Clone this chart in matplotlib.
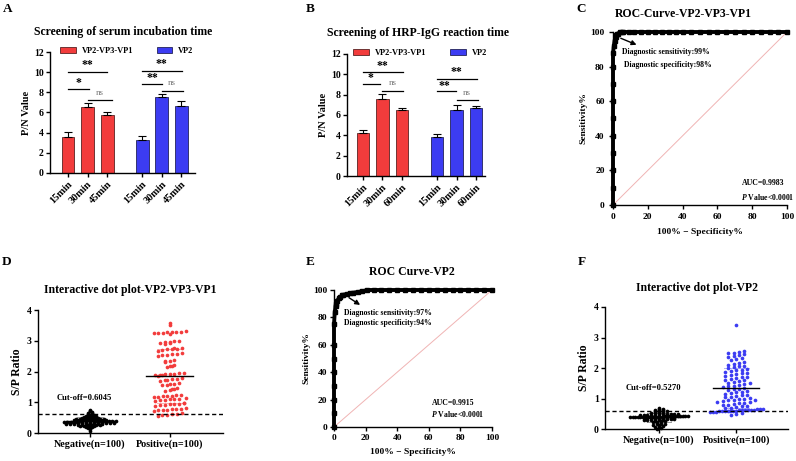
import numpy as np
import matplotlib
matplotlib.use('Agg')
import matplotlib.pyplot as plt

plt.rcParams['font.family'] = ['Liberation Serif', 'DejaVu Serif']
plt.rcParams['font.weight'] = 'bold'
plt.rcParams['axes.labelweight'] = 'bold'
plt.rcParams['axes.linewidth'] = 1.0
plt.rcParams['mathtext.fontset'] = 'custom'
plt.rcParams['mathtext.it'] = 'Liberation Serif:italic:bold'
plt.rcParams['mathtext.rm'] = 'Liberation Serif:bold'

RED = '#f23c3c'
BLUE = '#3c3cf2'

# ---------------- data ----------------
series_names = ['VP2-VP3-VP1', 'VP2']

A_ticks = ['15min', '30min', '45min']
A_red = [3.6, 6.5, 5.8]
A_red_err = [0.45, 0.45, 0.2]
A_blue = [3.25, 7.5, 6.6]
A_blue_err = [0.4, 0.3, 0.5]

B_ticks = ['15min', '30min', '60min']
B_red = [4.25, 7.6, 6.5]
B_red_err = [0.25, 0.5, 0.2]
B_blue = [3.85, 6.5, 6.7]
B_blue_err = [0.3, 0.45, 0.15]

C_fpr = [0, 0, 0, 0, 0, 0, 0, 0, 0, 0, 0.5, 1, 1.5, 2, 2.5, 3, 4, 5, 6, 9, 12, 16, 20, 24, 28,
         32, 36, 40, 45, 50, 55, 60, 65, 70, 75, 80, 85, 90, 95, 100]
C_tpr = [0, 10, 20, 30, 40, 50, 60, 70, 80, 88, 92, 95, 97, 98, 99, 99, 100, 100, 100, 100, 100,
         100, 100, 100, 100, 100, 100, 100, 100, 100, 100, 100, 100, 100, 100, 100, 100, 100, 100, 100]

E_fpr = [0, 0, 0, 0, 0, 0, 0, 0, 0.5, 1, 1.5, 2, 3, 4, 5, 6, 8, 10, 12, 15, 18, 21, 25, 30, 35,
         40, 45, 50, 55, 60, 65, 70, 75, 80, 85, 90, 95, 100]
E_tpr = [0, 10, 20, 30, 40, 50, 60, 75, 84, 88, 90, 92, 94, 95, 96, 96.5, 97, 97.5, 98, 98.5, 99,
         100, 100, 100, 100, 100, 100, 100, 100, 100, 100, 100, 100, 100, 100, 100, 100, 100]

C_texts = ['Diagnostic sensitivity:99%', 'Diagnostic specificity:98%', 'AUC=0.9983']
E_texts = ['Diagnostic sensitivity:97%', 'Diagnostic specificity:94%', 'AUC=0.9915']
p_text = '$P$ Value<0.0001'

dot_cats = ['Negative(n=100)', 'Positive(n=100)']

D_neg = [0.08, 0.12, 0.15, 0.17, 0.18, 0.20, 0.21, 0.22, 0.23, 0.24,
         0.25, 0.25, 0.26, 0.26, 0.27, 0.27, 0.28, 0.28, 0.28, 0.29,
         0.29, 0.30, 0.30, 0.30, 0.31, 0.31, 0.31, 0.32, 0.32, 0.32,
         0.33, 0.33, 0.33, 0.33, 0.34, 0.34, 0.34, 0.34, 0.35, 0.35,
         0.35, 0.35, 0.35, 0.36, 0.36, 0.36, 0.36, 0.37, 0.37, 0.37,
         0.37, 0.38, 0.38, 0.38, 0.38, 0.39, 0.39, 0.39, 0.40, 0.40,
         0.40, 0.40, 0.41, 0.41, 0.41, 0.42, 0.42, 0.42, 0.43, 0.43,
         0.43, 0.44, 0.44, 0.45, 0.45, 0.46, 0.46, 0.47, 0.47, 0.48,
         0.48, 0.49, 0.50, 0.50, 0.51, 0.52, 0.53, 0.54, 0.55, 0.56,
         0.57, 0.58, 0.60, 0.62, 0.64, 0.66, 0.68, 0.70, 0.72, 0.76]
D_pos = [3.52, 3.57,
         3.22, 3.24, 3.25, 3.26, 3.27, 3.28, 3.29, 3.30, 3.32,
         2.90, 2.92, 2.94, 2.95, 2.96, 2.98, 3.00,
         2.68, 2.70, 2.72, 2.73, 2.74, 2.76, 2.78,
         2.52, 2.54, 2.55, 2.57, 2.58, 2.60,
         2.30, 2.33, 2.35, 2.38,
         2.14, 2.17, 2.19, 2.22,
         1.86, 1.87, 1.88, 1.90, 1.91, 1.92, 1.93, 1.94, 1.96,
         1.70, 1.72, 1.73, 1.75, 1.76, 1.78,
         1.55, 1.57, 1.58, 1.60, 1.61,
         1.38, 1.40, 1.42, 1.44, 1.46,
         1.16, 1.18, 1.19, 1.20, 1.21, 1.22, 1.24,
         1.05, 1.07, 1.08, 1.09, 1.10, 1.11, 1.13,
         0.89, 0.90, 0.92, 0.93, 0.94, 0.95, 0.96, 0.98,
         0.72, 0.74, 0.75, 0.76, 0.77, 0.78, 0.79, 0.80,
         0.55, 0.58, 0.60, 0.61, 0.63, 0.65]
D_cutoff = 0.6045

F_neg = [0.00, 0.02, 0.05, 0.07, 0.09, 0.10, 0.12, 0.14, 0.15, 0.17,
         0.18, 0.20, 0.21, 0.22, 0.24, 0.25, 0.26, 0.27, 0.28, 0.29,
         0.30, 0.30, 0.31, 0.32, 0.32, 0.33, 0.33, 0.34, 0.34, 0.35,
         0.35, 0.35, 0.36, 0.36, 0.36, 0.37, 0.37, 0.37, 0.38, 0.38,
         0.38, 0.38, 0.39, 0.39, 0.39, 0.39, 0.40, 0.40, 0.40, 0.40,
         0.40, 0.40, 0.41, 0.41, 0.41, 0.41, 0.41, 0.42, 0.42, 0.42,
         0.42, 0.42, 0.43, 0.43, 0.43, 0.43, 0.44, 0.44, 0.44, 0.44,
         0.45, 0.45, 0.45, 0.46, 0.46, 0.46, 0.47, 0.47, 0.48, 0.48,
         0.49, 0.49, 0.50, 0.50, 0.51, 0.52, 0.53, 0.54, 0.55, 0.56,
         0.57, 0.58, 0.59, 0.60, 0.61, 0.62, 0.63, 0.65, 0.67, 0.70]
F_pos = [0.45, 0.48, 0.52, 0.55, 0.56, 0.57, 0.58, 0.58, 0.59, 0.59,
         0.60, 0.60, 0.60, 0.61, 0.61, 0.62, 0.62, 0.63, 0.63, 0.64,
         0.64, 0.65, 0.68, 0.70, 0.72, 0.74, 0.76, 0.78, 0.80, 0.82,
         0.84, 0.86, 0.88, 0.90, 0.92, 0.94, 0.96, 0.98, 1.00, 1.02,
         1.04, 1.06, 1.08, 1.10, 1.12, 1.15, 1.18, 1.20, 1.22, 1.25,
         1.28, 1.30, 1.32, 1.35, 1.38, 1.40, 1.42, 1.45, 1.48, 1.50,
         1.52, 1.55, 1.58, 1.60, 1.62, 1.65, 1.68, 1.70, 1.72, 1.75,
         1.78, 1.80, 1.82, 1.85, 1.88, 1.90, 1.92, 1.95, 1.98, 2.00,
         2.02, 2.05, 2.08, 2.10, 2.12, 2.15, 2.20, 2.25, 2.28, 2.32,
         2.35, 2.40, 2.42, 2.45, 2.48, 2.50, 2.52, 2.55, 0.95, 3.40]
F_cutoff_label = 0.5270
F_cutoff_line = 0.58

# ---------------- layout helpers ----------------
W, H = 796, 461
fig = plt.figure(figsize=(W / 100, H / 100), dpi=100)


def add_ax(x0, y0, x1, y1):
    return fig.add_axes([x0 / W, 1 - y1 / H, (x1 - x0) / W, (y1 - y0) / H])


def ftext(x, y, s, **kw):
    fig.text(x / W, 1 - y / H, s, ha='center', va='center', **kw)


def style(ax, xfs=7, yfs=7, pad=1.5):
    for s in ['top', 'right']:
        ax.spines[s].set_visible(False)
    ax.tick_params(length=3, width=1, pad=pad)
    ax.tick_params(axis='x', labelsize=xfs)
    ax.tick_params(axis='y', labelsize=yfs)
    for lab in ax.get_xticklabels() + ax.get_yticklabels():
        lab.set_fontweight('bold')


TITLE_FS = 8.5
LETTER_FS = 9.5

# ---------------- bar panels ----------------
def bar_panel(ax, ticks, red, red_err, blue, blue_err, xlim, brackets, stars):
    xr = np.arange(len(red))
    xb = np.arange(len(blue)) + 3.8
    ax.bar(xr, red, width=0.66, color=RED, edgecolor='#3a0a0a', linewidth=0.5,
           label=series_names[0], zorder=2)
    ax.bar(xb, blue, width=0.66, color=BLUE, edgecolor='#0a0a3a', linewidth=0.5,
           label=series_names[1], zorder=2)
    for x, v, e in ((xr, red, red_err), (xb, blue, blue_err)):
        ax.errorbar(x, v, yerr=[np.zeros(len(v)), e], fmt='none', ecolor='black',
                    elinewidth=0.8, capsize=3, capthick=0.8, zorder=3)
    ax.set_xlim(*xlim)
    ax.set_ylim(0, 12)
    ax.set_yticks(range(0, 13, 2))
    ax.set_xticks(list(xr) + list(xb))
    ax.set_xticklabels(ticks + ticks, rotation=45, ha='right', rotation_mode='anchor')
    ax.set_ylabel('P/N Value', fontsize=7.5, labelpad=2)
    style(ax, xfs=7.5, yfs=7)
    for (x1, x2, y) in brackets:
        ax.plot([x1, x2], [y, y], color='black', lw=0.9, clip_on=False)
    for (x, y, s) in stars:
        if s == 'ns':
            ax.text(x, y, s, ha='center', va='center', fontsize=6.5, color='#777777',
                    fontweight='normal')
        else:
            ax.text(x, y, s, ha='center', va='center', fontsize=8.5, color='black')
    leg = ax.legend(loc='upper center', bbox_to_anchor=(0.53, 1.07), ncol=2, frameon=False,
                    fontsize=6, handlelength=1.9, handleheight=0.7, columnspacing=2.8,
                    handletextpad=0.7, borderaxespad=0)
    for t in leg.get_texts():
        t.set_fontweight('bold')


axA = add_ax(50, 52, 195, 173)
bar_panel(axA, A_ticks, A_red, A_red_err, A_blue, A_blue_err, (-0.92, 6.5),
          brackets=[(0, 2, 10.0), (0, 1.1, 8.37), (1.0, 2.25, 7.24),
                    (3.8, 5.85, 10.15), (3.8, 4.8, 8.83), (4.8, 5.9, 8.17)],
          stars=[(1.0, 10.7, '**'), (0.56, 8.9, '*'), (1.64, 7.9, 'ns'),
                 (4.8, 10.8, '**'), (4.3, 9.4, '**'), (5.33, 8.9, 'ns')])

axB = add_ax(347, 54, 485, 176)
bar_panel(axB, B_ticks, B_red, B_red_err, B_blue, B_blue_err, (-0.82, 6.26),
          brackets=[(0, 2.05, 10.26), (0, 0.87, 9.05), (0.97, 2.05, 8.39),
                    (3.8, 5.85, 9.54), (3.8, 4.77, 8.36), (4.8, 5.9, 7.47)],
          stars=[(1.0, 10.8, '**'), (0.4, 9.6, '*'), (1.55, 9.1, 'ns'),
                 (4.77, 10.2, '**'), (4.2, 8.9, '**'), (5.3, 8.2, 'ns')])

# ---------------- ROC panels ----------------
def roc_panel(ax, fpr, tpr, texts, arrow, tpos, apos, pad, lpad):
    ax.plot([0, 100], [0, 100], color='#f0b4b4', lw=0.7, zorder=1)
    ax.plot(fpr, tpr, color='black', lw=2.8, marker='s', ms=2.2, clip_on=False, zorder=3)
    ax.set_xlim(0, 100)
    ax.set_ylim(0, 100)
    ax.set_xticks(range(0, 101, 20))
    ax.set_yticks(range(0, 101, 20))
    ax.set_xlabel('100% \u2212 Specificity%', fontsize=6.8, labelpad=lpad)
    ax.set_ylabel('Sensitivity%', fontsize=6.8, labelpad=2)
    style(ax, xfs=6.8, yfs=6.8, pad=pad)
    ax.annotate('', xy=arrow[1], xytext=arrow[0],
                arrowprops=dict(arrowstyle='-|>', color='black', lw=1.0, mutation_scale=7))
    ax.text(tpos[0][0], tpos[0][1], texts[0], fontsize=5.6, ha='left', va='center')
    ax.text(tpos[1][0], tpos[1][1], texts[1], fontsize=5.6, ha='left', va='center')
    ax.text(apos[0], apos[1], texts[2], fontsize=5.6, ha='left', va='center')
    ax.text(apos[0] - 0.5, apos[1] - 8, p_text, fontsize=5.6, ha='left', va='center')


axC = add_ax(613, 32, 787, 205)
roc_panel(axC, C_fpr, C_tpr, C_texts, arrow=((3, 97), (15, 92)),
          tpos=((5.2, 88.4), (6.2, 81)), apos=(74, 12.7), pad=3, lpad=5)

axE = add_ax(334, 290, 492, 427)
roc_panel(axE, E_fpr, E_tpr, E_texts, arrow=((8, 95.5), (18, 88)),
          tpos=((6.3, 83), (6.3, 76)), apos=(62, 17.5), pad=2, lpad=4)

# ---------------- dot plots ----------------
def swarm(values, center, binh, dx, maxhalf):
    v = np.asarray(values, float)
    bins = np.round(v / binh).astype(int)
    xs = np.empty_like(v)
    for b in np.unique(bins):
        idx = np.where(bins == b)[0]
        n = len(idx)
        off = (np.arange(n) - (n - 1) / 2) * dx
        if n > 1 and (n - 1) / 2 * dx > maxhalf:
            off *= maxhalf / ((n - 1) / 2 * dx)
        xs[idx] = center + off
    return xs


def dot_panel(ax, neg, pos, color, xlim, cut_line, cut_text, cut_xy, swarm_par):
    (bn, dn, mn), (bp, dp, mp) = swarm_par
    xn = swarm(neg, 1, bn, dn, mn)
    xp = swarm(pos, 2, bp, dp, mp)
    ax.scatter(xn, neg, s=7, color='black', marker='o', linewidths=0, zorder=3, clip_on=False)
    ax.scatter(xp, pos, s=7, color=color, marker='o', linewidths=0, zorder=3, clip_on=False)
    for x, vals, c in ((1, neg, 'black'), (2, pos, color)):
        m = np.mean(vals)
        sd = np.std(vals, ddof=1)
        ax.plot([x - 0.3, x + 0.3], [m, m], color='black', lw=1.0, zorder=4)
        ax.plot([x - 0.16, x + 0.16], [m + sd, m + sd], color=c, lw=0.7, alpha=0.4, zorder=2)
        ax.plot([x - 0.16, x + 0.16], [m - sd, m - sd], color=c, lw=0.7, alpha=0.4, zorder=2)
    ax.axhline(cut_line, color='black', lw=1.0, ls=(0, (3, 2)), zorder=5)
    ax.text(cut_xy[0], cut_xy[1], cut_text, fontsize=6.2, ha='left', va='center')
    ax.set_xlim(*xlim)
    ax.set_ylim(0, 4)
    ax.set_yticks(range(0, 5))
    ax.set_xticks([1, 2])
    ax.set_xticklabels(dot_cats)
    ax.set_ylabel('S/P Ratio', fontsize=8.5, labelpad=3)
    style(ax, xfs=7.3, yfs=7)


axD = add_ax(38, 310, 223, 433)
dot_panel(axD, D_neg, D_pos, RED, (0.35, 2.67), D_cutoff, 'Cut-off=%.4f' % D_cutoff,
          (0.58, 1.14), ((0.035, 0.05, 0.33), (0.15, 0.06, 0.2)))

axF = add_ax(605, 307, 788, 429)
dot_panel(axF, F_neg, F_pos, BLUE, (0.30, 2.67), F_cutoff_line, 'Cut-off=%.4f' % F_cutoff_label,
          (0.57, 1.34), ((0.04, 0.05, 0.37), (0.12, 0.07, 0.34)))

# ---------------- titles & letters ----------------
ftext(123, 32, 'Screening of serum incubation time', fontsize=TITLE_FS)
ftext(418, 33, 'Screening of HRP-IgG reaction time', fontsize=TITLE_FS)
ftext(683, 14, 'ROC-Curve-VP2-VP3-VP1', fontsize=TITLE_FS)
ftext(130, 290, 'Interactive dot plot-VP2-VP3-VP1', fontsize=TITLE_FS)
ftext(412, 272, 'ROC Curve-VP2', fontsize=TITLE_FS)
ftext(697, 288, 'Interactive dot plot-VP2', fontsize=TITLE_FS)

for s, x, y in (('A', 8, 9), ('B', 310, 9), ('C', 581, 9),
                ('D', 7, 262), ('E', 310, 262), ('F', 582, 262)):
    ftext(x, y, s, fontsize=LETTER_FS)

fig.savefig('out.png', dpi=100)
